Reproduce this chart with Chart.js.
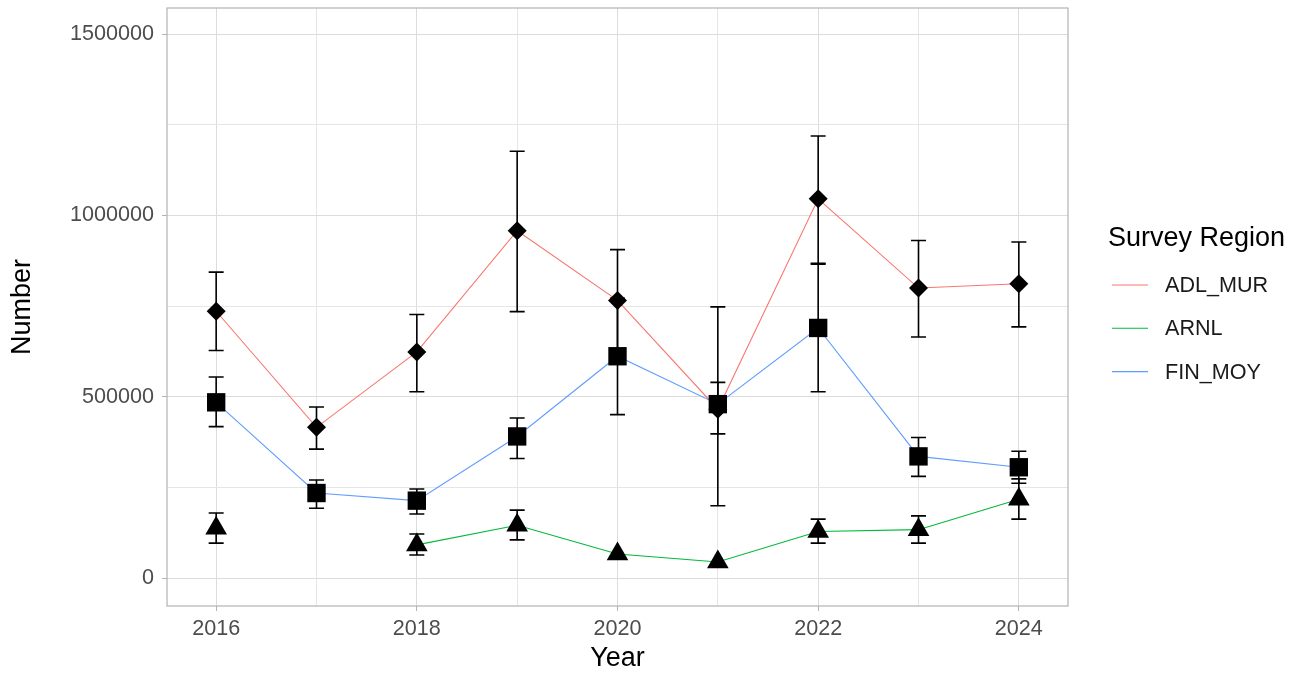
<!DOCTYPE html>
<html>
<head>
<meta charset="utf-8">
<title>Number by year and survey region</title>
<script src="https://cdn.jsdelivr.net/npm/chart.js@4.4.1/dist/chart.umd.min.js"></script>
<style>
  html, body { margin: 0; padding: 0; background: #fff; }
  #wrap { width: 1298px; height: 675px; }
</style>
</head>
<body>
<div id="wrap"><canvas id="chart"></canvas></div>
<script>
const years = [2016, 2017, 2018, 2019, 2020, 2021, 2022, 2023, 2024];
const yGrid = [0, 250000, 500000, 750000, 1000000, 1250000, 1500000];

const regions = ["ADL_MUR", "ARNL", "FIN_MOY"];
const regionColors = ["#F8766D", "#00BA38", "#619CFF"];
const regionShapes = ["rectRot", "triangle", "rect"];
const regionSizes = [9.5, 12.5, 13];

// estimates and their lower / upper bounds
const adlMur = [736000, 416000, 624000, 958000, 766000, 466000, 1046000, 800000, 812000];
const adlMurLo = [628000, 356000, 514000, 735000, 626000, 200000, 868000, 665000, 693000];
const adlMurHi = [844000, 472000, 727000, 1177000, 906000, 748000, 1219000, 931000, 927000];

const arnl = [138000, null, 92000, 146000, 67000, 45000, 129000, 134000, 218000];
const arnlLo = [97000, null, 64000, 106000, null, null, 97000, 97000, 163000];
const arnlHi = [180000, null, 122000, 188000, null, null, 163000, 172000, 274000];

const finMoy = [485000, 235000, 214000, 391000, 612000, 480000, 690000, 336000, 306000];
const finMoyLo = [418000, 193000, 177000, 330000, 451000, 398000, 514000, 281000, 262000];
const finMoyHi = [555000, 271000, 246000, 442000, 772000, 540000, 866000, 388000, 350000];

const values = [adlMur, arnl, finMoy];
const lows = [adlMurLo, arnlLo, finMoyLo];
const highs = [adlMurHi, arnlHi, finMoyHi];

const FONT = "'Liberation Sans', Arial, sans-serif";
const toXY = (arr) => years.map((yr, i) => ({ x: yr, y: arr[i] }));

// lines first, then black point markers on top (ggplot layering)
const lineSets = regions.map((name, i) => ({
  label: name,
  data: toXY(values[i]),
  borderColor: regionColors[i],
  backgroundColor: regionColors[i],
  borderWidth: 1.1,
  pointRadius: 0,
  tension: 0,
  order: 10 + i,
}));

const pointSets = regions.map((name, i) => ({
  label: name + " points",
  data: toXY(values[i]),
  showLine: false,
  pointStyle: regionShapes[i],
  pointRadius: regionSizes[i],
  pointBackgroundColor: "#000",
  pointBorderWidth: 0,
  order: 3 - i,
}));

const errorBars = {
  id: "errorBars",
  afterDatasetsDraw(chart) {
    const { ctx, scales: { x, y } } = chart;
    const cap = 7.5;
    ctx.save();
    ctx.strokeStyle = "#000";
    ctx.lineWidth = 1.6;
    lows.forEach((lo, s) => {
      lo.forEach((l, i) => {
        const h = highs[s][i];
        if (l == null || h == null) return;
        const px = x.getPixelForValue(years[i]);
        const yl = y.getPixelForValue(l);
        const yh = y.getPixelForValue(h);
        ctx.beginPath();
        ctx.moveTo(px, yh);
        ctx.lineTo(px, yl);
        ctx.moveTo(px - cap, yh);
        ctx.lineTo(px + cap, yh);
        ctx.moveTo(px - cap, yl);
        ctx.lineTo(px + cap, yl);
        ctx.stroke();
      });
    });
    ctx.restore();
  },
};

const panelBorder = {
  id: "panelBorder",
  beforeDatasetsDraw(chart) {
    const { ctx, chartArea: a } = chart;
    ctx.save();
    ctx.strokeStyle = "#b3b3b3";
    ctx.lineWidth = 1.2;
    ctx.strokeRect(a.left, a.top, a.right - a.left, a.bottom - a.top);
    ctx.restore();
  },
};

const regionLegend = {
  id: "regionLegend",
  afterDraw(chart) {
    const { ctx, chartArea: a } = chart;
    const left = a.right + 40;
    const mid = (a.top + a.bottom) / 2;
    ctx.save();
    ctx.fillStyle = "#000";
    ctx.font = `27px ${FONT}`;
    ctx.textBaseline = "alphabetic";
    ctx.textAlign = "left";
    ctx.fillText("Survey Region", left, mid - 61);
    ctx.font = `21.6px ${FONT}`;
    ctx.textBaseline = "middle";
    ctx.fillStyle = "#1a1a1a";
    lineSets.forEach((ds, i) => {
      const yy = mid - 22 + i * 43.3;
      ctx.strokeStyle = ds.borderColor;
      ctx.lineWidth = 1.1;
      ctx.beginPath();
      ctx.moveTo(left + 4, yy);
      ctx.lineTo(left + 40, yy);
      ctx.stroke();
      ctx.fillText(ds.label, left + 57, yy + 1);
    });
    ctx.restore();
  },
};

const tickMark = (isMajor) => (c) => (c.tick && isMajor(c.tick.value) ? "#b3b3b3" : "rgba(0,0,0,0)");
const gridLine = (isMajor) => (c) => (c.tick && isMajor(c.tick.value) ? "#dcdcdc" : "#e6e6e6");
const evenYear = (v) => v % 2 === 0;
const halfMillion = (v) => v % 500000 === 0;

new Chart(document.getElementById("chart"), {
  type: "line",
  data: { datasets: [...lineSets, ...pointSets] },
  options: {
    responsive: true,
    maintainAspectRatio: false,
    animation: false,
    devicePixelRatio: 1,
    layout: { autoPadding: false, padding: { left: 0, top: 8, right: 230, bottom: 0 } },
    plugins: {
      legend: { display: false },
      tooltip: { enabled: false },
    },
    scales: {
      x: {
        type: "linear",
        min: 2015.51,
        max: 2024.49,
        border: { display: false },
        grid: { color: gridLine(evenYear), tickLength: 5, tickColor: tickMark(evenYear), lineWidth: 1 },
        afterBuildTicks(s) {
          s.ticks = years.map((v) => ({ value: v }));
        },
        ticks: {
          autoSkip: false,
          maxRotation: 0,
          padding: 5,
          color: "#4d4d4d",
          font: { family: FONT, size: 21.6 },
          callback: (v) => (evenYear(v) ? String(v) : ""),
        },
        title: {
          display: true,
          text: "Year",
          color: "#000",
          font: { family: FONT, size: 27 },
          padding: { top: 0, bottom: 0 },
        },
        afterFit(s) {
          s.height = 69;
          s.paddingLeft = 0;
          s.paddingRight = 0;
        },
      },
      y: {
        min: -76400,
        max: 1571900,
        border: { display: false },
        grid: { color: gridLine(halfMillion), tickLength: 5, tickColor: tickMark(halfMillion), lineWidth: 1 },
        afterBuildTicks(s) {
          s.ticks = yGrid.map((v) => ({ value: v }));
        },
        ticks: {
          autoSkip: false,
          padding: 8,
          color: "#4d4d4d",
          font: { family: FONT, size: 21.6 },
          callback: (v) => (halfMillion(v) ? String(v) : ""),
        },
        title: {
          display: true,
          text: "Number",
          color: "#000",
          font: { family: FONT, size: 27 },
          padding: { top: 6, bottom: 0 },
        },
        afterFit(s) {
          s.width = 167;
          s.paddingTop = 0;
          s.paddingBottom = 0;
        },
      },
    },
  },
  plugins: [panelBorder, errorBars, regionLegend],
});
</script>
</body>
</html>
